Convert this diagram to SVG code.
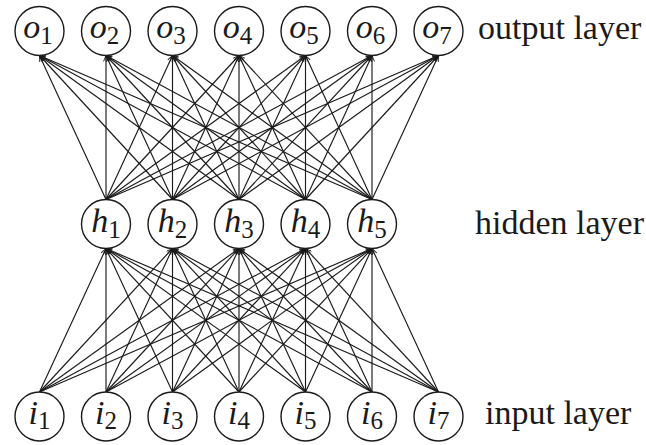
<svg xmlns="http://www.w3.org/2000/svg" width="646" height="445" viewBox="0 0 646 445">
  <defs>
    <marker id="tip" viewBox="0 0 10 10" refX="9.5" refY="5" markerWidth="7" markerHeight="7" markerUnits="userSpaceOnUse" orient="auto">
      <path d="M1,1.5 L9.5,5 L1,8.5" fill="none" stroke="#1a1a1a" stroke-width="1.3"/>
    </marker>
  </defs>
  <style>
    .node circle { fill: #ffffff; stroke: #1a1a1a; stroke-width: 1.4; }
    .node text { font-family: "Liberation Serif", "DejaVu Serif", serif; fill: #1a1a1a; text-anchor: middle; }
    .v { font-style: italic; font-size: 34px; }
    .s { font-size: 25px; font-style: normal; }
    .edges line { stroke: #1a1a1a; stroke-width: 1.15; marker-end: url(#tip); }
    .layer { font-family: "Liberation Serif", "DejaVu Serif", serif; font-size: 34px; fill: #1a1a1a; }
  </style>

  <!-- connections: input -> hidden, hidden -> output -->
  <g id="edges" class="edges">
    <!-- input to hidden -->
    <line x1="39.5" y1="392" x2="106" y2="248.5"/>
    <line x1="39.5" y1="392" x2="172.5" y2="248.5"/>
    <line x1="39.5" y1="392" x2="239" y2="248.5"/>
    <line x1="39.5" y1="392" x2="305.5" y2="248.5"/>
    <line x1="39.5" y1="392" x2="372" y2="248.5"/>
    <line x1="106" y1="392" x2="106" y2="248.5"/>
    <line x1="106" y1="392" x2="172.5" y2="248.5"/>
    <line x1="106" y1="392" x2="239" y2="248.5"/>
    <line x1="106" y1="392" x2="305.5" y2="248.5"/>
    <line x1="106" y1="392" x2="372" y2="248.5"/>
    <line x1="172.5" y1="392" x2="106" y2="248.5"/>
    <line x1="172.5" y1="392" x2="172.5" y2="248.5"/>
    <line x1="172.5" y1="392" x2="239" y2="248.5"/>
    <line x1="172.5" y1="392" x2="305.5" y2="248.5"/>
    <line x1="172.5" y1="392" x2="372" y2="248.5"/>
    <line x1="239" y1="392" x2="106" y2="248.5"/>
    <line x1="239" y1="392" x2="172.5" y2="248.5"/>
    <line x1="239" y1="392" x2="239" y2="248.5"/>
    <line x1="239" y1="392" x2="305.5" y2="248.5"/>
    <line x1="239" y1="392" x2="372" y2="248.5"/>
    <line x1="305.5" y1="392" x2="106" y2="248.5"/>
    <line x1="305.5" y1="392" x2="172.5" y2="248.5"/>
    <line x1="305.5" y1="392" x2="239" y2="248.5"/>
    <line x1="305.5" y1="392" x2="305.5" y2="248.5"/>
    <line x1="305.5" y1="392" x2="372" y2="248.5"/>
    <line x1="372" y1="392" x2="106" y2="248.5"/>
    <line x1="372" y1="392" x2="172.5" y2="248.5"/>
    <line x1="372" y1="392" x2="239" y2="248.5"/>
    <line x1="372" y1="392" x2="305.5" y2="248.5"/>
    <line x1="372" y1="392" x2="372" y2="248.5"/>
    <line x1="438.5" y1="392" x2="106" y2="248.5"/>
    <line x1="438.5" y1="392" x2="172.5" y2="248.5"/>
    <line x1="438.5" y1="392" x2="239" y2="248.5"/>
    <line x1="438.5" y1="392" x2="305.5" y2="248.5"/>
    <line x1="438.5" y1="392" x2="372" y2="248.5"/>
    <!-- hidden to output -->
    <line x1="106" y1="199.5" x2="39.5" y2="55.5"/>
    <line x1="106" y1="199.5" x2="106" y2="55.5"/>
    <line x1="106" y1="199.5" x2="172.5" y2="55.5"/>
    <line x1="106" y1="199.5" x2="239" y2="55.5"/>
    <line x1="106" y1="199.5" x2="305.5" y2="55.5"/>
    <line x1="106" y1="199.5" x2="372" y2="55.5"/>
    <line x1="106" y1="199.5" x2="438.5" y2="55.5"/>
    <line x1="172.5" y1="199.5" x2="39.5" y2="55.5"/>
    <line x1="172.5" y1="199.5" x2="106" y2="55.5"/>
    <line x1="172.5" y1="199.5" x2="172.5" y2="55.5"/>
    <line x1="172.5" y1="199.5" x2="239" y2="55.5"/>
    <line x1="172.5" y1="199.5" x2="305.5" y2="55.5"/>
    <line x1="172.5" y1="199.5" x2="372" y2="55.5"/>
    <line x1="172.5" y1="199.5" x2="438.5" y2="55.5"/>
    <line x1="239" y1="199.5" x2="39.5" y2="55.5"/>
    <line x1="239" y1="199.5" x2="106" y2="55.5"/>
    <line x1="239" y1="199.5" x2="172.5" y2="55.5"/>
    <line x1="239" y1="199.5" x2="239" y2="55.5"/>
    <line x1="239" y1="199.5" x2="305.5" y2="55.5"/>
    <line x1="239" y1="199.5" x2="372" y2="55.5"/>
    <line x1="239" y1="199.5" x2="438.5" y2="55.5"/>
    <line x1="305.5" y1="199.5" x2="39.5" y2="55.5"/>
    <line x1="305.5" y1="199.5" x2="106" y2="55.5"/>
    <line x1="305.5" y1="199.5" x2="172.5" y2="55.5"/>
    <line x1="305.5" y1="199.5" x2="239" y2="55.5"/>
    <line x1="305.5" y1="199.5" x2="305.5" y2="55.5"/>
    <line x1="305.5" y1="199.5" x2="372" y2="55.5"/>
    <line x1="305.5" y1="199.5" x2="438.5" y2="55.5"/>
    <line x1="372" y1="199.5" x2="39.5" y2="55.5"/>
    <line x1="372" y1="199.5" x2="106" y2="55.5"/>
    <line x1="372" y1="199.5" x2="172.5" y2="55.5"/>
    <line x1="372" y1="199.5" x2="239" y2="55.5"/>
    <line x1="372" y1="199.5" x2="305.5" y2="55.5"/>
    <line x1="372" y1="199.5" x2="372" y2="55.5"/>
    <line x1="372" y1="199.5" x2="438.5" y2="55.5"/>
  </g>

  <!-- output layer -->
  <g id="o1" class="node"><circle cx="39.5" cy="31" r="24.5"/><text x="38" y="38"><tspan class="v">o</tspan><tspan class="s" dy="6">1</tspan></text></g>
  <g id="o2" class="node"><circle cx="106" cy="31" r="24.5"/><text x="104.5" y="38"><tspan class="v">o</tspan><tspan class="s" dy="6">2</tspan></text></g>
  <g id="o3" class="node"><circle cx="172.5" cy="31" r="24.5"/><text x="171" y="38"><tspan class="v">o</tspan><tspan class="s" dy="6">3</tspan></text></g>
  <g id="o4" class="node"><circle cx="239" cy="31" r="24.5"/><text x="237.5" y="38"><tspan class="v">o</tspan><tspan class="s" dy="6">4</tspan></text></g>
  <g id="o5" class="node"><circle cx="305.5" cy="31" r="24.5"/><text x="304" y="38"><tspan class="v">o</tspan><tspan class="s" dy="6">5</tspan></text></g>
  <g id="o6" class="node"><circle cx="372" cy="31" r="24.5"/><text x="370.5" y="38"><tspan class="v">o</tspan><tspan class="s" dy="6">6</tspan></text></g>
  <g id="o7" class="node"><circle cx="438.5" cy="31" r="24.5"/><text x="437" y="38"><tspan class="v">o</tspan><tspan class="s" dy="6">7</tspan></text></g>

  <!-- hidden layer -->
  <g id="h1" class="node"><circle cx="106" cy="224" r="24.5"/><text x="106" y="232"><tspan class="v">h</tspan><tspan class="s" dy="6">1</tspan></text></g>
  <g id="h2" class="node"><circle cx="172.5" cy="224" r="24.5"/><text x="172.5" y="232"><tspan class="v">h</tspan><tspan class="s" dy="6">2</tspan></text></g>
  <g id="h3" class="node"><circle cx="239" cy="224" r="24.5"/><text x="239" y="232"><tspan class="v">h</tspan><tspan class="s" dy="6">3</tspan></text></g>
  <g id="h4" class="node"><circle cx="305.5" cy="224" r="24.5"/><text x="305.5" y="232"><tspan class="v">h</tspan><tspan class="s" dy="6">4</tspan></text></g>
  <g id="h5" class="node"><circle cx="372" cy="224" r="24.5"/><text x="372" y="232"><tspan class="v">h</tspan><tspan class="s" dy="6">5</tspan></text></g>

  <!-- input layer -->
  <g id="i1" class="node"><circle cx="39.5" cy="416.5" r="24.5"/><text x="39.5" y="424"><tspan class="v">i</tspan><tspan class="s" dy="5">1</tspan></text></g>
  <g id="i2" class="node"><circle cx="106" cy="416.5" r="24.5"/><text x="106" y="424"><tspan class="v">i</tspan><tspan class="s" dy="5">2</tspan></text></g>
  <g id="i3" class="node"><circle cx="172.5" cy="416.5" r="24.5"/><text x="172.5" y="424"><tspan class="v">i</tspan><tspan class="s" dy="5">3</tspan></text></g>
  <g id="i4" class="node"><circle cx="239" cy="416.5" r="24.5"/><text x="239" y="424"><tspan class="v">i</tspan><tspan class="s" dy="5">4</tspan></text></g>
  <g id="i5" class="node"><circle cx="305.5" cy="416.5" r="24.5"/><text x="305.5" y="424"><tspan class="v">i</tspan><tspan class="s" dy="5">5</tspan></text></g>
  <g id="i6" class="node"><circle cx="372" cy="416.5" r="24.5"/><text x="372" y="424"><tspan class="v">i</tspan><tspan class="s" dy="5">6</tspan></text></g>
  <g id="i7" class="node"><circle cx="438.5" cy="416.5" r="24.5"/><text x="438.5" y="424"><tspan class="v">i</tspan><tspan class="s" dy="5">7</tspan></text></g>

  <!-- layer captions -->
  <text class="layer" x="478" y="39">output layer</text>
  <text class="layer" x="475" y="234">hidden layer</text>
  <text class="layer" x="485" y="424">input layer</text>
</svg>
